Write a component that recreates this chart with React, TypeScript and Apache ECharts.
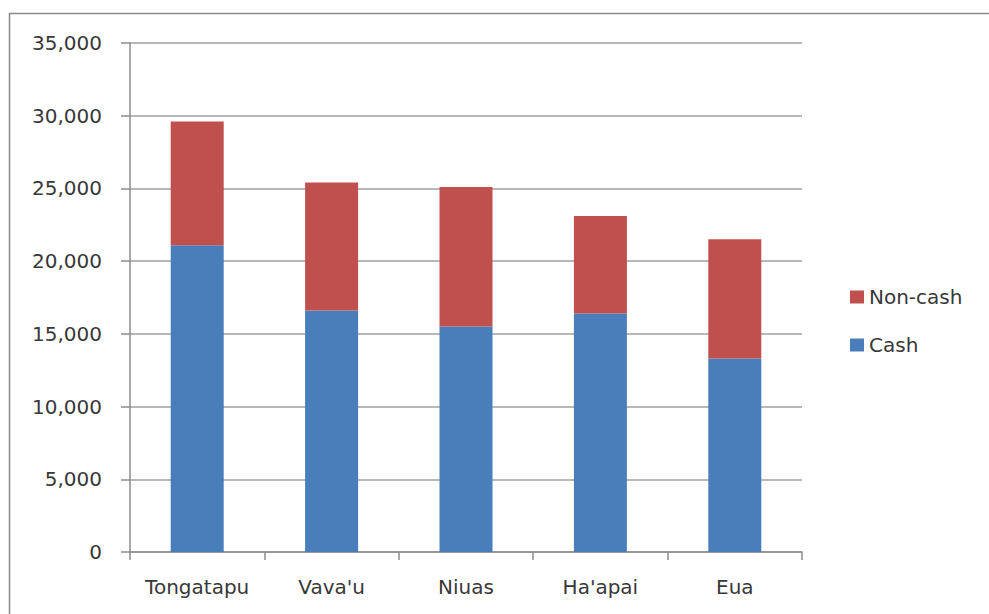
import React, { useEffect, useRef } from "react";
import * as echarts from "echarts";

const categories = ["Tongatapu", "Vava'u", "Niuas", "Ha'apai", "Eua"];
const cashValues = [21100, 16600, 15500, 16400, 13300];
const nonCashValues = [8500, 8800, 9600, 6700, 8200];
const legendNames = ["Non-cash", "Cash"];

export default function App() {
  const ref = useRef<HTMLDivElement>(null);
  useEffect(() => {
    document.body.style.margin = "0";
    const chart = echarts.init(ref.current!, undefined, { renderer: "svg" });
    const font = "DejaVu Sans";
    chart.setOption({
      animation: false,
      backgroundColor: "#ffffff",
      graphic: [
        {
          type: "rect",
          shape: { x: 9.5, y: 13.5, width: 1100, height: 700 },
          style: { fill: "none", stroke: "#8a8a8a", lineWidth: 1.5 },
          silent: true,
        },
      ],
      grid: { left: 130, right: 187, top: 43, bottom: 62, containLabel: false },
      legend: {
        data: legendNames,
        orient: "vertical",
        left: 845,
        top: 282,
        itemWidth: 14,
        itemHeight: 13,
        itemGap: 28,
        icon: "rect",
        textStyle: { fontFamily: font, fontSize: 20, color: "#383838", padding: [0, 0, 0, 0] },
      },
      xAxis: {
        type: "category",
        data: categories,
        axisLine: { show: true, lineStyle: { color: "#8c8c8c", width: 1.5 } },
        axisTick: { show: true, interval: 0, length: 8, lineStyle: { color: "#8c8c8c", width: 1.5 } },
        axisLabel: { interval: 0, fontFamily: font, fontSize: 20, color: "#383838", margin: 25 },
      },
      yAxis: {
        type: "value",
        min: 0,
        max: 35000,
        interval: 5000,
        axisLine: { show: true, lineStyle: { color: "#8c8c8c", width: 1.5 } },
        axisTick: { show: true, length: 9, inside: false, lineStyle: { color: "#8c8c8c", width: 1.5 } },
        splitLine: { show: true, lineStyle: { color: "#a0a0a0", width: 1.5 } },
        axisLabel: {
          fontFamily: font,
          fontSize: 20,
          color: "#383838",
          margin: 28,
          formatter: (v: number) => v.toLocaleString("en-US"),
        },
      },
      series: [
        {
          name: "Cash",
          type: "bar",
          stack: "total",
          data: cashValues,
          barWidth: 53,
          itemStyle: { color: "#4a7ebb" },
        },
        {
          name: "Non-cash",
          type: "bar",
          stack: "total",
          data: nonCashValues,
          barWidth: 53,
          itemStyle: { color: "#c0504d" },
        },
      ],
    });
    return () => chart.dispose();
  }, []);
  return <div ref={ref} style={{ width: 989, height: 614 }} />;
}
